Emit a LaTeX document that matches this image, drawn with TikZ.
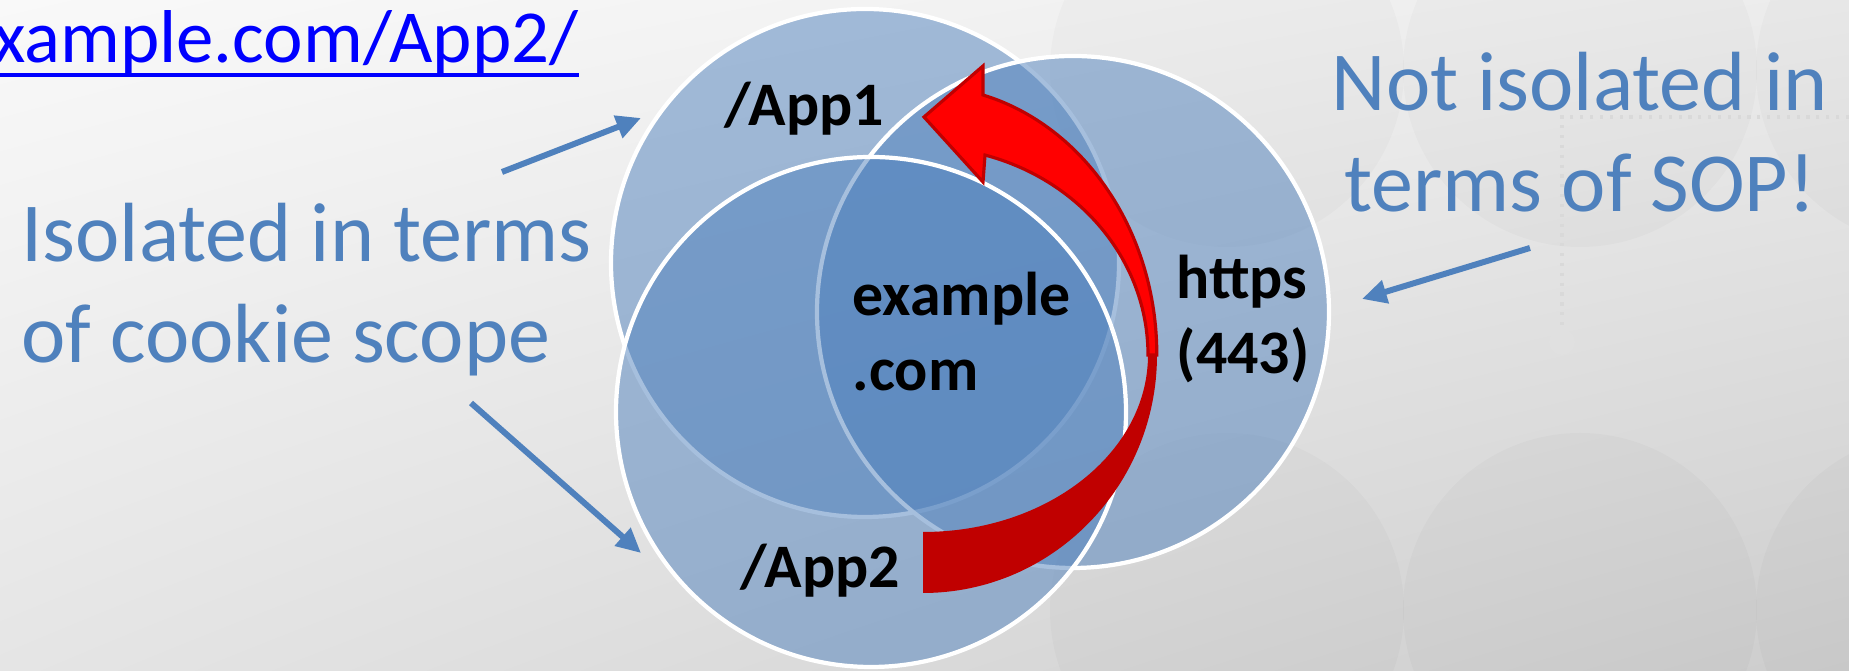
\documentclass[tikz,border=0pt]{standalone}
\usepackage{fontspec}
\setmainfont{Carlito}
\usetikzlibrary{arrows.meta,shadings}

\definecolor{officeblue}{RGB}{79,129,189}
\definecolor{linkblue}{RGB}{0,0,255}
\definecolor{arrowred}{RGB}{255,0,0}
\definecolor{arrowdark}{RGB}{192,0,0}
\definecolor{bgA}{RGB}{249,249,249}
\definecolor{bgB}{RGB}{236,236,236}
\definecolor{bgC}{RGB}{229,229,229}
\definecolor{bgD}{RGB}{205,205,205}

\begin{document}
\begin{tikzpicture}[>={Triangle[length=7pt,width=6.5pt]},
    scope circle/.style={fill=officeblue, fill opacity=0.5, draw=white, line width=1.2pt},
    note/.style={text=officeblue, font=\fontsize{23.9}{29}\selectfont, inner sep=0pt},
    tag/.style={font=\bfseries\fontsize{17.6}{21.6}\selectfont, inner sep=0pt},
    pointer/.style={->, draw=officeblue, fill=officeblue, line width=1.7pt}]
  % Canvas in units of 0.01cm, origin at the top left corner.
  \useasboundingbox (0,0) rectangle (18.49,-6.71);
  \clip (0,0) rectangle (18.49,-6.71);
  % Slide background: soft grey shading with a few faint discs.
  \shade[upper left=bgA, upper right=bgB, lower left=bgC, lower right=bgD]
    (0,0) rectangle (18.49,-6.71);
  \foreach \cx in {12.27,15.80,19.33}
    \foreach \cy in {-0.70,-6.10}
      \fill[black, opacity=0.018] (\cx,\cy) circle (1.77);
  \draw[black!15, line width=0.9pt, dash pattern=on 0.9pt off 1.9pt]
    (18.49,-1.17) -- (15.62,-1.17) -- (15.62,-3.25);
  \fill[black!12] (15.62,-3.42) circle (0.13);

  % The three scopes: App1 below, https over it, App2 on top.
  \path[scope circle] (8.65,-2.63) circle (2.54);
  \path[scope circle] (10.73,-3.12) circle (2.56);
  \path[scope circle] (8.71,-4.12) circle (2.55);

  % Red curved arrow, dark back part first.
  \fill[arrowdark] (11.57,-3.55)
    arc[start angle=0, end angle=-90, x radius=2.34, y radius=2.38]
    -- (9.23,-5.32)
    arc[start angle=-90, end angle=0, x radius=2.25, y radius=1.77] -- cycle;
  % front part with the head
  \filldraw[fill=arrowred, draw=arrowdark, line width=0.9pt] (9.83,-0.95)
    arc[start angle=75.1, end angle=0, x radius=2.34, y radius=2.69]
    -- (11.48,-3.55)
    arc[start angle=0, end angle=74, x radius=2.25, y radius=2.08]
    -- (9.83,-1.82) -- (9.24,-1.17) -- (9.83,-0.66) -- cycle;

  % Labels inside the circles (two-line nodes sit on their last line).
  \node[tag, anchor=base west] (app1) at (7.24,-1.26) {/App1};
  \node[tag, anchor=base west] (app2) at (7.40,-5.88) {/App2};
  \node[tag, anchor=base west, align=left] (host) at (8.52,-3.91) {example\\.com};
  \node[tag, anchor=base west, align=left] (port) at (11.76,-3.74) {https\\(443)};

  % Side notes and the link at the top.
  \node[note, anchor=base west, align=left] (iso) at (0.21,-3.63)
    {Isolated in terms\\of cookie scope};
  \node[note, anchor=base, align=center] (sop) at (15.80,-2.12)
    {Not isolated in\\terms of SOP!};
  \node[anchor=base east, text=linkblue, inner sep=0pt,
    font=\fontsize{21.3}{25}\selectfont] (url) at (5.79,-0.63) {example.com/App2/};
  \draw[linkblue, line width=1.1pt]
    ([yshift=-0.12cm]url.base west) -- ([yshift=-0.12cm]url.base east);

  % Pointers from the notes to the circles.
  \coordinate (isoUp) at (5.02,-1.72);
  \coordinate (app1Rim) at (6.41,-1.18);
  \coordinate (isoDown) at (4.71,-4.03);
  \coordinate (app2Rim) at (6.41,-5.53);
  \coordinate (sopTail) at (15.30,-2.48);
  \coordinate (portRim) at (13.62,-2.99);
  \draw[pointer] (isoUp) -- (app1Rim);
  \draw[pointer] (isoDown) -- (app2Rim);
  \draw[pointer] (sopTail) -- (portRim);
\end{tikzpicture}
\end{document}
